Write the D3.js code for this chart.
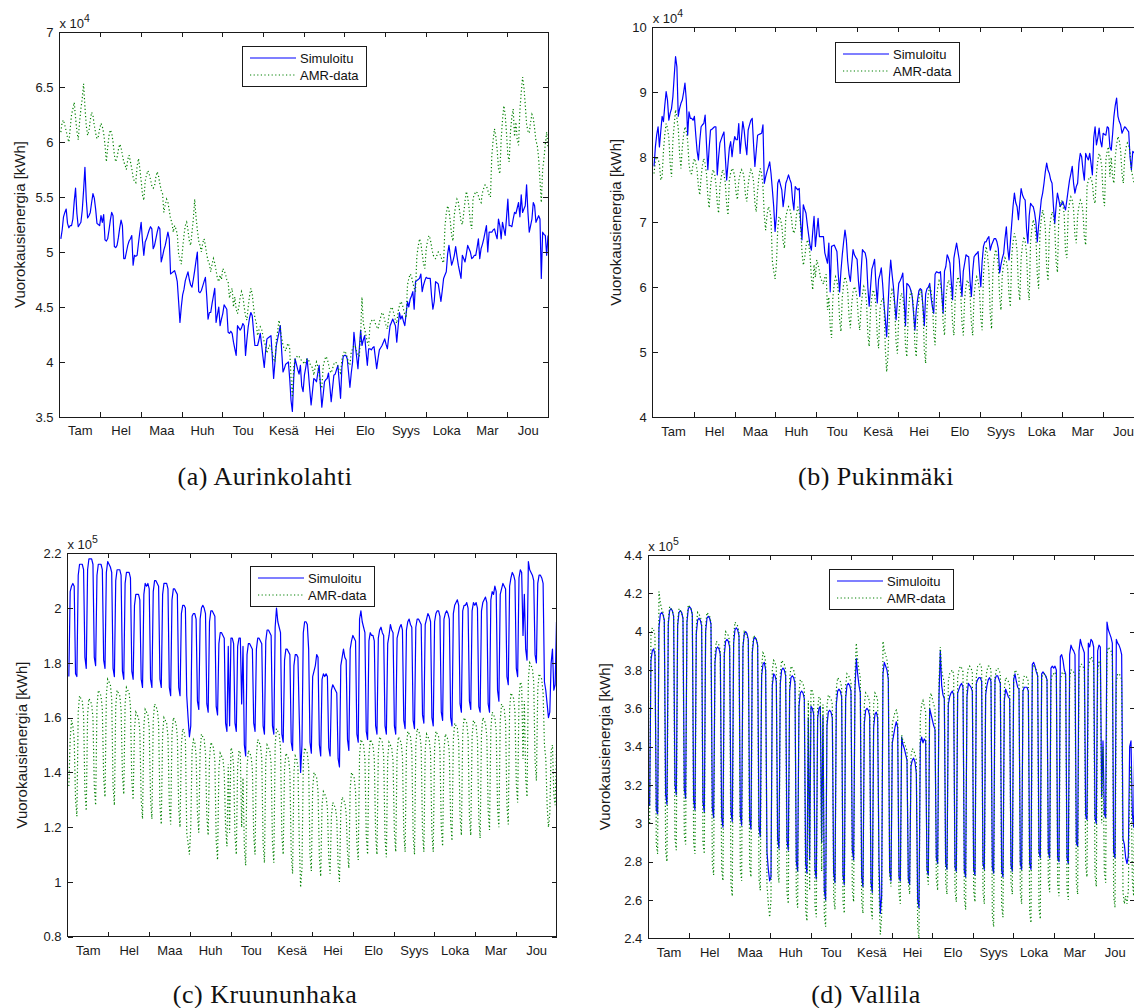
<!DOCTYPE html>
<html>
<head>
<meta charset="utf-8">
<script src="https://cdn.jsdelivr.net/npm/d3@7"></script>
<style>
  body { margin: 0; background: #fff; }
  svg { display: block; }
</style>
</head>
<body>
<svg id="chart" width="1134" height="1008"></svg>
<script>
// Month names (Finnish abbreviations) shown between the month boundaries
const monthLabels = ["Tam","Hel","Maa","Huh","Tou","Kesä","Hei","Elo","Syys","Loka","Mar","Jou"];
const seriesNames = ["Simuloitu", "AMR-data"];

// Daily energy, MWh (= 1000 kWh), day 1..365, one week per row (Mon..Sun)
const aurinkolahtiSim = [
51.2,52.0,53.2,53.6,53.9,52.6,52.2,
52.4,52.4,53.0,54.6,55.8,53.5,52.3,
52.5,52.7,53.8,55.6,57.7,54.8,53.1,
53.3,53.6,54.5,55.3,54.9,53.9,52.6,
52.5,52.4,53.3,52.7,53.4,51.1,51.0,
51.2,52.0,52.9,53.6,53.3,50.5,50.4,
50.6,51.3,52.2,52.9,52.4,49.4,49.4,
50.0,50.6,51.0,51.2,51.5,48.8,49.7,
49.6,49.7,50.8,51.8,52.7,51.0,49.7,
50.9,51.2,51.6,52.0,52.3,52.1,50.3,
50.6,51.2,51.8,52.3,52.1,49.1,49.6,
50.2,50.6,51.2,51.8,51.2,48.0,48.1,
48.2,48.3,47.9,47.3,45.5,43.6,45.0,
46.1,46.6,47.4,47.8,48.2,47.5,47.0,
46.8,47.5,48.3,49.2,50.0,46.4,46.3,
46.5,46.9,47.3,47.7,46.0,43.9,44.5,
44.5,45.3,46.0,46.7,43.6,44.3,45.0,
43.3,43.9,44.4,45.2,45.0,44.8,42.7,
42.6,42.8,42.6,41.8,41.2,40.6,43.3,
43.1,42.9,43.1,43.5,43.3,40.6,42.0,
43.2,44.0,44.5,44.2,42.8,41.5,41.5,
41.5,42.0,42.6,41.6,40.5,39.5,41.0,
42.1,42.2,42.3,42.4,40.5,38.5,40.0,
41.5,42.1,42.7,43.3,41.0,39.1,39.4,
39.8,39.9,40.0,38.5,36.5,35.5,38.5,
40.3,39.8,39.3,38.9,39.7,37.8,37.3,
38.8,39.5,40.3,39.0,37.5,36.1,37.3,
38.5,38.4,38.2,39.0,39.7,37.8,35.9,
37.0,38.2,38.4,38.5,39.0,37.8,36.4,
37.6,38.8,38.9,39.3,39.7,38.2,36.7,
39.5,40.5,40.6,40.6,40.3,39.0,37.7,
39.0,40.0,42.7,41.5,40.5,39.4,41.2,
42.9,41.5,42.0,42.4,41.0,39.7,41.2,
41.2,41.1,41.3,41.4,40.4,39.4,40.3,
41.1,41.3,41.5,41.8,42.1,41.6,41.2,
42.3,43.3,43.6,43.9,43.6,43.3,41.8,
43.2,44.5,43.9,44.2,43.7,43.3,44.4,
45.5,45.0,45.7,46.0,46.4,44.8,47.3,
47.4,47.5,47.6,48.0,46.4,47.0,47.4,
47.7,47.6,47.6,47.6,46.0,44.8,45.5,
47.3,47.2,47.1,46.3,45.5,46.5,47.6,
47.9,48.2,49.8,50.6,49.7,48.8,49.2,
49.7,50.5,49.6,48.8,48.2,47.6,49.7,
49.4,49.1,49.8,50.6,50.3,50.0,49.4,
49.5,49.7,49.7,50.4,51.2,49.4,50.3,
50.7,51.2,51.8,52.4,50.0,51.8,51.8,
51.8,52.0,52.1,51.6,51.2,53.0,52.4,
51.2,52.7,52.1,51.5,53.1,54.8,52.4,
52.4,52.3,53.0,53.6,53.5,54.0,54.5,
53.2,55.2,53.6,53.9,54.2,56.1,53.6,
51.8,52.4,53.0,54.5,54.2,52.7,53.0,
53.3,53.0,47.6,51.8,51.6,51.5,49.7,
51.5
];
const aurinkolahtiAmr = [
60.9,61.8,62.0,61.5,61.0,60.4,60.0,
61.2,62.5,63.0,63.6,62.2,61.0,60.2,
61.8,63.0,64.0,65.3,63.2,61.5,60.6,
61.0,62.0,62.7,62.4,61.5,60.8,60.3,
60.5,61.2,61.7,61.4,60.8,59.7,58.2,
59.5,60.6,61.1,60.8,60.0,58.8,58.2,
58.6,59.3,59.8,59.5,58.8,58.2,57.9,
57.5,58.4,58.8,58.2,57.6,56.8,56.4,
56.3,57.8,58.5,57.6,56.5,55.2,54.7,
56.4,57.0,57.4,57.1,56.6,56.0,55.8,
56.0,56.8,57.3,56.9,56.2,55.6,55.3,
53.6,54.3,54.8,54.5,53.8,53.0,52.7,
51.8,52.4,52.1,51.6,49.8,49.3,48.9,
50.3,51.5,52.4,52.7,52.0,51.0,50.6,
51.8,53.0,54.8,53.2,52.0,51.0,50.6,
50.0,50.8,51.2,50.6,49.8,49.2,48.9,
48.2,48.9,49.4,49.0,48.3,47.6,47.3,
47.9,47.5,48.5,48.3,48.0,47.5,47.3,
45.8,46.4,46.7,45.0,45.9,44.8,44.4,
45.0,45.9,46.4,46.0,45.0,44.2,43.8,
45.0,46.0,46.7,46.2,45.0,44.0,43.6,
42.4,42.9,43.2,43.0,42.4,41.8,41.5,
40.8,41.2,41.5,41.3,40.9,40.3,40.0,
42.0,42.8,43.8,43.0,42.2,41.5,41.2,
41.0,41.5,41.7,41.2,38.5,36.8,39.5,
40.2,40.4,40.6,40.5,40.3,40.1,40.0,
39.8,40.1,40.3,40.2,39.9,39.6,39.5,
38.8,39.5,40.0,39.6,38.9,38.0,37.6,
39.6,40.1,40.5,40.3,39.8,39.2,39.0,
39.4,39.8,40.0,39.9,39.6,39.2,39.0,
40.2,40.7,41.0,40.8,40.4,39.9,39.7,
40.9,41.2,41.5,41.4,41.0,40.7,40.5,
42.5,45.9,43.5,43.0,42.4,41.8,41.5,
43.4,43.7,43.9,43.8,43.5,43.2,43.0,
43.6,44.1,44.5,44.3,43.8,43.3,43.0,
44.1,44.6,45.0,44.8,44.3,43.8,43.5,
44.6,45.1,45.5,45.3,44.8,44.3,44.0,
47.0,47.6,48.0,47.8,47.2,46.7,46.4,
49.6,50.5,51.2,50.8,49.9,48.9,48.5,
50.3,51.0,51.5,51.2,50.5,49.8,49.5,
49.4,49.7,50.0,49.9,49.6,49.2,49.0,
52.3,53.5,54.2,53.8,52.8,51.5,51.0,
53.4,54.2,54.8,54.5,53.7,52.8,52.5,
53.5,54.6,55.5,55.0,54.0,52.7,52.1,
54.9,55.2,55.5,55.4,55.1,54.7,54.5,
55.4,55.8,56.1,56.0,55.6,55.2,55.0,
58.7,60.2,61.2,60.5,59.3,57.6,57.1,
60.2,62.0,63.3,62.5,60.8,58.8,58.2,
61.0,62.3,63.0,60.5,61.8,60.2,59.7,
62.9,64.5,65.9,65.0,63.4,61.6,61.0,
60.8,61.8,62.5,62.2,61.2,60.1,59.7,
58.5,56.5,54.5,57.5,58.5,59.8,60.9,
59.5
];

const pukinmakiSim = [
78.6,81.6,83.5,84.7,81.6,84.0,86.3,
85.5,88.0,90.1,88.8,85.7,86.8,87.5,
89.3,92.5,95.5,93.9,86.3,87.5,88.3,
88.8,90.0,91.4,88.8,83.4,87.0,86.0,
86.0,85.7,86.3,83.5,81.0,79.6,82.5,
84.7,85.0,85.2,86.5,82.0,78.1,81.5,
84.2,84.3,84.5,84.7,84.7,77.3,80.0,
82.2,82.8,83.4,83.9,80.0,76.5,79.0,
81.4,82.4,80.1,82.0,83.2,82.7,82.7,
85.2,80.6,83.0,85.5,84.2,82.0,80.4,
84.2,85.0,85.7,86.0,82.0,78.6,81.0,
83.4,83.5,83.6,83.7,85.0,76.0,77.0,
77.8,78.5,79.3,77.5,75.0,72.4,68.6,
71.0,76.0,76.6,75.8,75.0,72.4,74.0,
76.0,76.6,77.3,76.6,76.0,73.5,71.9,
75.5,75.2,75.0,75.2,70.0,67.3,72.7,
72.0,71.4,69.6,68.0,66.5,65.7,68.5,
70.9,66.3,68.5,70.6,67.8,67.8,67.8,
67.8,65.3,64.5,63.7,66.8,59.3,66.3,
66.4,66.5,66.0,65.5,62.0,59.3,62.5,
65.0,67.0,68.8,67.3,64.0,62.0,60.9,
63.5,65.8,65.0,64.6,64.3,61.0,58.6,
62.5,65.8,65.5,65.3,64.3,60.0,57.1,
60.0,62.8,63.5,64.3,60.5,57.6,61.2,
62.0,63.0,60.5,57.4,55.0,52.4,57.0,
61.4,64.2,62.0,60.1,57.5,55.0,58.0,
60.6,61.0,61.5,62.2,58.0,54.1,60.6,
60.4,60.1,59.5,58.6,56.0,53.4,56.5,
58.1,59.5,59.8,59.6,57.0,54.1,59.0,
59.8,60.0,60.6,58.5,57.0,56.0,62.0,
62.4,62.3,62.2,62.4,59.0,56.0,62.5,
63.2,65.0,64.5,63.7,61.0,58.1,64.5,
65.7,66.8,65.5,64.2,61.0,58.6,62.5,
63.7,65.0,64.8,64.7,61.0,58.6,62.5,
64.7,65.0,65.2,65.5,62.5,60.1,64.0,
66.3,67.0,67.0,67.5,67.8,65.7,66.5,
67.0,67.5,67.5,67.0,66.0,62.2,63.5,
64.5,65.2,67.5,69.3,66.0,64.2,67.0,
69.8,72.5,74.5,73.0,72.4,70.4,73.0,
75.2,74.2,73.7,73.4,69.0,66.8,71.0,
72.9,72.6,72.4,71.5,70.0,67.0,69.5,
71.4,73.5,74.5,76.0,77.8,79.1,78.0,
77.5,76.5,76.0,72.5,69.8,72.5,74.5,
73.5,72.4,72.8,73.2,72.5,71.9,73.4,
75.0,76.5,77.5,78.6,76.0,74.5,75.5,
76.0,79.1,80.6,80.1,78.0,76.5,80.6,
80.0,79.6,80.6,79.0,77.3,83.0,84.7,
81.9,83.0,84.5,82.5,81.6,83.7,83.5,
83.4,84.7,84.5,81.6,81.1,83.5,86.3,
88.0,89.1,86.3,85.5,85.0,83.7,84.2,
84.7,84.5,84.2,83.9,80.0,78.1,80.9,
80.7,80.6,80.9,79.0,77.5,78.0,80.0,
81.0
];
const pukinmakiAmr = [
77.5,79.5,80.1,79.8,79.0,76.5,77.0,
81.0,83.5,85.2,84.5,83.0,79.0,77.0,
82.5,85.0,87.3,86.0,84.5,80.5,78.3,
81.5,83.5,84.7,84.0,82.5,79.0,77.5,
77.5,79.0,79.8,79.2,78.0,75.5,74.2,
77.0,78.8,79.8,79.0,77.5,74.0,72.2,
75.5,77.2,78.1,77.5,76.0,73.0,71.4,
75.5,77.0,78.1,77.5,76.0,72.8,71.1,
76.5,77.6,78.3,78.0,77.0,74.5,73.5,
76.3,77.5,78.1,77.8,76.8,74.2,73.2,
75.8,77.3,78.1,77.6,76.3,73.0,71.6,
74.8,77.0,78.3,77.5,75.5,71.0,68.8,
71.0,72.4,72.0,70.5,64.0,62.5,61.3,
63.5,69.0,70.9,70.5,69.5,67.0,66.0,
70.8,71.8,72.4,72.0,71.0,69.0,68.3,
69.0,71.3,72.4,71.5,69.5,65.5,63.4,
64.5,66.3,67.3,66.8,65.0,61.5,59.6,
63.5,61.5,64.2,63.5,62.5,61.2,61.0,
60.5,61.5,62.0,56.5,58.5,54.0,52.2,
58.5,60.5,61.6,61.0,59.5,55.0,53.2,
58.5,60.5,61.6,61.0,59.5,55.5,53.7,
57.5,59.3,60.1,59.6,58.3,55.0,53.4,
57.0,59.0,60.1,59.5,57.8,52.8,50.9,
56.5,58.5,59.6,59.0,57.2,52.5,50.6,
56.5,57.8,58.3,57.5,50.5,47.0,49.5,
56.0,58.5,59.6,59.0,57.0,51.5,49.8,
55.5,58.0,59.1,58.5,56.5,51.0,49.3,
55.8,58.3,59.5,58.8,56.8,51.0,49.3,
55.5,58.3,59.6,59.0,56.8,50.3,48.3,
57.0,59.0,60.0,59.5,57.8,53.0,51.1,
58.2,60.0,61.0,60.5,59.0,54.5,52.6,
58.3,60.2,61.1,60.6,59.0,54.5,52.6,
58.5,60.5,61.6,61.0,59.5,54.5,52.6,
58.3,60.2,61.1,60.6,59.0,54.5,52.6,
58.8,60.6,61.6,61.0,59.5,55.3,53.4,
62.0,64.5,66.3,65.0,62.5,56.0,53.6,
62.5,64.5,65.8,65.0,63.3,58.5,56.5,
62.0,63.5,64.5,64.0,62.8,58.8,57.0,
64.8,67.0,68.3,67.5,65.5,60.0,58.0,
64.5,66.5,67.8,67.0,65.3,60.0,58.0,
67.0,69.0,70.4,69.6,67.8,62.0,59.8,
68.3,70.5,71.9,71.0,69.0,63.0,61.0,
68.6,70.5,71.6,71.0,69.3,64.0,62.3,
70.5,72.5,73.4,72.8,71.3,65.5,64.5,
71.5,73.0,73.9,73.4,72.0,68.0,66.8,
71.0,72.5,73.4,73.0,71.5,67.8,66.5,
75.5,76.5,77.0,76.8,76.0,73.6,72.9,
77.5,79.5,80.6,80.0,78.5,74.0,72.5,
79.5,81.0,81.6,77.0,80.0,77.0,76.0,
80.0,82.0,83.2,82.6,81.0,77.5,76.0,
80.0,81.5,82.2,81.8,80.8,78.0,77.0,
76.0,75.5,76.5,79.5,80.0,77.5,76.5,
79.0
];

const kruununhakaSim = [
175,206,208,209,208,176,175,
212,216,216,216,214,182,178,
214,218,218,218,216,182,179,
212,216,216,216,214,181,178,
213,217,216,215,213,178,175,
210,214,214,214,212,177,174,
209,213,213,213,211,177,174,
201,205,205,205,203,174,171,
205,209,208,209,207,174,171,
206,210,210,209,208,174,171,
205,209,209,209,207,171,168,
203,207,207,206,205,171,168,
198,201,201,200,168,160,153,
157,197,198,198,196,166,163,
196,200,201,200,198,165,162,
195,199,199,198,197,164,161,
187,191,191,190,189,158,155,
186,157,189,189,187,158,155,
186,189,189,165,186,150,146,
183,187,187,186,185,158,155,
185,189,189,188,187,157,154,
188,192,192,191,190,157,154,
193,200,195,193,191,154,151,
181,185,185,184,183,151,148,
179,183,183,182,160,140,150,
191,195,195,194,185,151,147,
175,177,179,183,182,150,146,
174,176,175,176,175,149,146,
170,172,171,170,169,145,142,
179,182,185,182,181,152,148,
185,188,190,189,188,154,151,
196,199,195,193,191,155,152,
188,191,190,190,188,157,154,
189,192,193,191,190,157,154,
187,190,194,192,191,157,154,
189,191,193,194,192,159,156,
192,195,196,194,193,159,156,
193,196,196,195,194,161,158,
194,196,198,197,195,160,157,
195,198,199,199,197,162,159,
196,198,199,198,196,160,157,
198,201,202,203,201,165,162,
199,201,201,202,200,166,163,
199,202,201,202,200,164,162,
199,202,203,204,202,165,162,
203,206,205,208,206,170,166,
205,207,209,208,207,175,172,
208,211,213,212,210,178,175,
211,214,213,190,205,185,181,
217,214,213,212,210,183,180,
209,212,212,211,209,173,170,
165,160,162,180,185,170,172,
195
];
const kruununhakaAmr = [
135,152,159,157,152,130,124,
162,168,167,166,161,133,126,
161,167,166,165,160,135,128,
164,170,169,168,163,138,131,
168,174,173,172,167,135,128,
164,170,169,168,163,139,132,
165,171,170,169,164,137,130,
156,162,161,160,155,130,123,
157,163,162,161,156,130,123,
159,165,164,163,158,128,121,
154,160,159,158,153,128,121,
154,160,159,158,153,127,120,
150,156,155,152,118,114,110,
120,148,152,151,146,125,118,
148,154,153,152,147,124,117,
145,151,150,149,144,115,108,
141,147,146,145,140,120,113,
143,118,149,148,142,117,110,
142,148,147,120,138,113,106,
142,148,147,146,141,117,110,
146,152,151,150,145,114,107,
144,150,149,148,143,114,107,
150,156,155,154,149,117,110,
141,147,146,145,140,110,103,
140,146,145,142,115,98,105,
143,149,148,147,142,110,104,
134,140,139,138,133,109,102,
128,133,132,131,127,109,103,
124,129,128,127,123,106,100,
126,131,130,129,125,111,105,
134,140,139,138,133,114,108,
146,152,151,150,145,117,110,
146,152,151,150,145,117,110,
147,153,152,151,146,116,109,
145,151,150,149,144,118,111,
147,153,152,151,146,118,111,
149,155,154,153,148,117,110,
150,156,155,154,149,118,111,
148,154,153,152,147,118,111,
149,155,154,153,148,120,113,
148,154,153,152,147,122,115,
152,158,157,156,151,124,117,
154,160,159,158,153,124,117,
153,159,158,157,152,123,116,
154,160,159,158,153,126,119,
156,162,161,160,155,127,120,
159,165,164,163,158,128,121,
163,169,168,167,162,136,129,
167,173,172,145,166,138,131,
174,180,179,178,173,144,137,
170,176,175,174,169,150,145,
128,120,125,148,150,132,128,
148
];

const vallilaSim = [
309,385,390,391,388,307,305,
402,409,410,409,406,315,310,
404,411,412,411,408,320,315,
403,410,411,410,407,318,313,
405,412,413,412,409,312,307,
399,406,407,406,403,311,306,
400,407,408,407,404,308,303,
384,391,392,391,388,303,298,
388,395,396,395,392,306,301,
394,401,402,401,398,304,299,
392,399,400,399,396,302,297,
389,396,397,396,393,298,293,
377,383,384,380,285,276,270,
272,372,378,377,374,292,287,
373,380,381,380,377,291,286,
369,376,377,376,373,280,275,
361,368,369,368,365,279,274,
355,281,361,360,357,276,271,
355,360,361,290,356,265,260,
351,358,359,358,355,274,269,
362,369,370,369,366,273,268,
365,372,373,372,369,286,281,
370,386,378,372,368,272,267,
352,359,360,359,356,269,264,
350,357,358,355,280,253,262,
378,384,382,380,375,275,270,
342,346,350,353,350,272,270,
345,341,339,336,333,271,268,
330,333,334,332,326,260,256,
342,345,342,344,343,276,273,
360,357,354,351,349,282,279,
366,390,372,367,365,279,276,
362,366,368,369,367,277,275,
368,370,372,373,371,275,272,
366,373,372,371,369,276,273,
373,375,376,376,374,279,276,
367,372,375,376,374,277,274,
375,377,377,375,373,275,272,
364,370,368,366,365,278,275,
375,378,374,371,370,279,276,
369,371,371,371,369,279,276,
383,384,382,379,377,285,282,
378,379,378,377,375,285,282,
381,382,381,382,380,282,280,
387,388,385,380,378,282,279,
388,393,391,390,388,290,288,
390,396,393,391,389,304,302,
394,392,396,395,392,303,300,
390,393,392,314,343,305,303,
405,401,399,397,394,285,282,
396,394,393,391,388,292,289,
282,279,283,340,343,305,298,
355
];
const vallilaAmr = [
300,398,402,401,398,289,284,
421,415,412,410,406,286,280,
406,413,412,411,408,292,286,
405,412,411,410,407,294,289,
407,414,413,412,409,290,284,
403,410,409,408,405,290,284,
403,410,409,408,405,279,273,
388,395,394,393,390,276,270,
393,400,399,398,395,268,262,
398,405,404,403,400,276,270,
393,400,399,398,395,278,272,
391,398,397,396,393,271,265,
382,389,388,384,268,258,251,
260,380,385,384,381,275,269,
378,385,384,383,380,264,258,
375,382,381,380,377,262,256,
368,375,374,373,370,255,249,
364,265,370,369,366,257,251,
360,366,365,275,362,252,246,
361,367,366,365,362,261,255,
370,376,375,374,371,259,253,
372,378,377,376,373,265,259,
378,394,385,380,376,259,253,
362,368,367,366,363,256,250,
362,368,367,364,265,242,252,
395,390,388,385,380,273,267,
352,355,358,359,356,264,258,
346,343,342,340,338,269,263,
335,339,338,336,333,246,240,
356,362,364,361,358,274,268,
365,368,365,362,360,271,265,
375,392,380,376,374,269,263,
374,378,379,380,378,265,259,
376,380,382,381,379,261,255,
376,381,382,381,379,265,259,
377,382,383,383,381,264,258,
374,380,382,382,380,252,246,
376,380,381,380,378,257,251,
370,376,375,374,372,269,263,
376,380,379,378,376,264,258,
374,377,377,376,374,254,248,
380,382,381,380,378,256,250,
376,378,378,377,375,270,264,
374,378,378,379,377,268,262,
374,378,379,378,376,266,260,
376,380,380,379,377,269,263,
378,383,383,382,380,278,272,
381,385,387,386,383,273,267,
380,384,385,300,340,275,269,
388,392,391,390,387,262,256,
374,378,378,377,375,264,258,
262,258,265,320,330,270,262,
340
];

// Y-axis tick values (MWh) for each panel; labels are shown in units of 10^4 or 10^5 kWh
const aurinkolahtiTicks = [35, 40, 45, 50, 55, 60, 65, 70];
const pukinmakiTicks = [40, 50, 60, 70, 80, 90, 100];
const kruununhakaTicks = [80, 100, 120, 140, 160, 180, 200, 220];
const vallilaTicks = [240, 260, 280, 300, 320, 340, 360, 380, 400, 420, 440];

const svg = d3.select("#chart");
const SANS = '"Liberation Sans", Arial, Helvetica, sans-serif';
const SERIF = '"Liberation Serif", "Times New Roman", serif';
const axisColor = "#1a1a1a";
const simColor = "#0000ff";
const amrColor = "#008000";

const panels = [
  { key: "a", x0: 59.5, x1: 548, y0: 32, y1: 417, ticks: aurinkolahtiTicks, div: 10, exp: "4",
    sim: aurinkolahtiSim, amr: aurinkolahtiAmr, legend: [242, 46], ylabelX: 20,
    caption: "(a) Aurinkolahti", capX: 265, capY: 485 },
  { key: "b", x0: 652.7, x1: 1143.5, y0: 27.3, y1: 417.3, ticks: pukinmakiTicks, div: 10, exp: "4",
    sim: pukinmakiSim, amr: pukinmakiAmr, legend: [835, 42], ylabelX: 616,
    caption: "(b) Pukinmäki", capX: 876, capY: 485 },
  { key: "c", x0: 67.5, x1: 556.5, y0: 553.3, y1: 936.7, ticks: kruununhakaTicks, div: 100, exp: "5",
    sim: kruununhakaSim, amr: kruununhakaAmr, legend: [250, 566], ylabelX: 22,
    caption: "(c) Kruununhaka", capX: 265, capY: 1003 },
  { key: "d", x0: 648.3, x1: 1135, y0: 555, y1: 938.3, ticks: vallilaTicks, div: 100, exp: "5",
    sim: vallilaSim, amr: vallilaAmr, legend: [829, 569], ylabelX: 605,
    caption: "(d) Vallila", capX: 866, capY: 1003 }
];

const defs = svg.append("defs");
const daysInYear = 365;
const monthBounds = d3.range(1, 12).map(m => m * daysInYear / 12);
const monthMids = d3.range(12).map(m => (m + 0.5) * daysInYear / 12);

function drawPanel(p) {
  const g = svg.append("g").attr("class", "panel-" + p.key);
  const x = d3.scaleLinear().domain([0, daysInYear]).range([p.x0, p.x1]);
  const y = d3.scaleLinear().domain([p.ticks[0], p.ticks[p.ticks.length - 1]]).range([p.y1, p.y0]);

  defs.append("clipPath").attr("id", "clip-" + p.key)
    .append("rect").attr("x", p.x0).attr("y", p.y0)
    .attr("width", p.x1 - p.x0).attr("height", p.y1 - p.y0);

  const line = d3.line().x((v, i) => x(i + 1)).y(v => y(v));
  const plot = g.append("g").attr("clip-path", `url(#clip-${p.key})`);
  plot.append("path").datum(p.sim)
    .attr("fill", "none").attr("stroke", simColor).attr("stroke-width", 1.2)
    .attr("stroke-linejoin", "round").attr("d", line);
  plot.append("path").datum(p.amr)
    .attr("fill", "none").attr("stroke", amrColor).attr("stroke-width", 1.2)
    .attr("stroke-dasharray", "1.2,2.4").attr("d", line);

  const fmt = v => String(+(v / p.div).toFixed(2));
  const styleAxis = sel => {
    sel.select(".domain").remove();
    sel.selectAll(".tick line").attr("stroke", axisColor).attr("shape-rendering", "crispEdges");
    sel.selectAll(".tick text").attr("fill", axisColor).style("font-size", "13px").style("font-family", SANS);
  };

  // inward ticks on all four sides
  g.append("g").attr("transform", `translate(0,${p.y1})`)
    .call(d3.axisBottom(x).tickValues(monthBounds).tickSize(-5).tickFormat("")).call(styleAxis);
  g.append("g").attr("transform", `translate(0,${p.y0})`)
    .call(d3.axisTop(x).tickValues(monthBounds).tickSize(-5).tickFormat("")).call(styleAxis);
  g.append("g").attr("transform", `translate(${p.x0},0)`)
    .call(d3.axisLeft(y).tickValues(p.ticks).tickSize(-5).tickPadding(6).tickFormat(fmt)).call(styleAxis);
  g.append("g").attr("transform", `translate(${p.x1},0)`)
    .call(d3.axisRight(y).tickValues(p.ticks).tickSize(-5).tickFormat("")).call(styleAxis);
  // month names centred in each month
  g.append("g").attr("transform", `translate(0,${p.y1})`)
    .call(d3.axisBottom(x).tickValues(monthMids).tickSize(0).tickPadding(9)
      .tickFormat((d, i) => monthLabels[i])).call(styleAxis);

  g.append("rect").attr("x", p.x0).attr("y", p.y0)
    .attr("width", p.x1 - p.x0).attr("height", p.y1 - p.y0)
    .attr("fill", "none").attr("stroke", axisColor).attr("stroke-width", 1)
    .attr("shape-rendering", "crispEdges");

  // exponent above the y axis
  const ex = g.append("text").attr("x", p.x0).attr("y", p.y0 - 4)
    .attr("fill", axisColor).style("font-family", SANS).style("font-size", "13px");
  ex.append("tspan").text("x 10");
  ex.append("tspan").attr("dy", -6).style("font-size", "10.5px").text(p.exp);

  // y-axis title
  g.append("text")
    .attr("transform", `translate(${p.ylabelX},${(p.y0 + p.y1) / 2}) rotate(-90)`)
    .attr("text-anchor", "middle").attr("dy", "0.35em")
    .attr("fill", axisColor).style("font-family", SANS).style("font-size", "15px")
    .text("Vuorokausienergia [kWh]");

  // legend
  const [lx, ly] = p.legend;
  const lg = g.append("g").attr("transform", `translate(${lx},${ly})`);
  lg.append("rect").attr("width", 124).attr("height", 40)
    .attr("fill", "#fff").attr("stroke", axisColor).attr("shape-rendering", "crispEdges");
  const rows = [
    { name: seriesNames[0], color: simColor, dash: null, yy: 12 },
    { name: seriesNames[1], color: amrColor, dash: "1.2,2.4", yy: 29 }
  ];
  rows.forEach(r => {
    lg.append("line").attr("x1", 8).attr("x2", 54).attr("y1", r.yy).attr("y2", r.yy)
      .attr("stroke", r.color).attr("stroke-width", 1.2)
      .attr("stroke-dasharray", r.dash);
    lg.append("text").attr("x", 58).attr("y", r.yy).attr("dy", "0.35em")
      .attr("fill", "#111").style("font-family", SANS).style("font-size", "13px").text(r.name);
  });

  // sub-figure caption
  svg.append("text").attr("x", p.capX).attr("y", p.capY).attr("text-anchor", "middle")
    .attr("fill", "#111").style("font-family", SERIF).style("font-size", "26px")
    .style("letter-spacing", "0.5px").text(p.caption);
}

panels.forEach(drawPanel);
</script>
</body>
</html>
